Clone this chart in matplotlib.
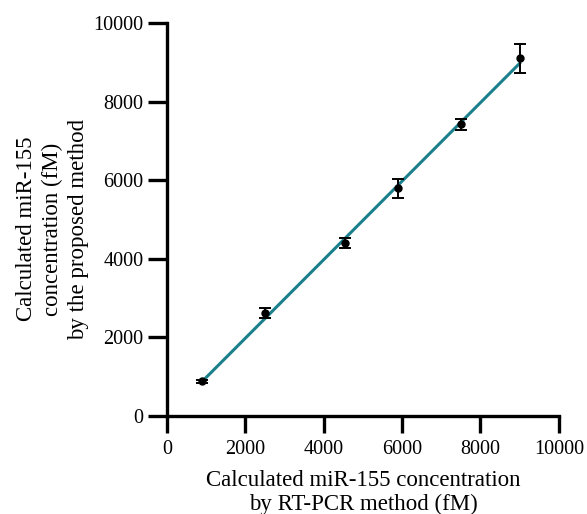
import numpy as np
import matplotlib.pyplot as plt

plt.rcParams['font.family'] = ['Liberation Serif', 'DejaVu Serif']

# RT-PCR (x) vs proposed method (y), fM
rt_pcr = [900, 2500, 4550, 5900, 7500, 9000]
proposed = [880, 2620, 4400, 5800, 7420, 9100]
err = [40, 135, 125, 245, 150, 365]

fig = plt.figure(figsize=(5.87, 5.14), dpi=100)
ax = fig.add_axes([0.2845, 0.1907, 0.6675, 0.7643])

k, b = np.polyfit(rt_pcr, proposed, 1)
xf = np.array([rt_pcr[0], rt_pcr[-1]])
ax.plot(xf, k * xf + b, color='#1b7f8c', lw=2.2, zorder=2)
ax.errorbar(rt_pcr, proposed, yerr=err, fmt='o', color='black', ms=5,
            elinewidth=1.4, capsize=4.5, capthick=1.4, zorder=3)

ax.set_xlim(0, 10000)
ax.set_ylim(0, 10000)
ax.set_xticks(range(0, 10001, 2000))
ax.set_yticks(range(0, 10001, 2000))
for s in ['top', 'right']:
    ax.spines[s].set_visible(False)
for s in ['left', 'bottom']:
    ax.spines[s].set_linewidth(2.4)
ax.tick_params(width=2.4, labelsize=14.5)
ax.tick_params(axis='x', length=12, pad=5)
ax.tick_params(axis='y', length=14, pad=3)

ax.set_xlabel('Calculated miR-155 concentration\nby RT-PCR method (fM)', fontsize=16.5, linespacing=1.15)
ax.set_ylabel('Calculated miR-155\nconcentration (fM)\nby the proposed method', fontsize=16.5, linespacing=1.3)
ax.xaxis.set_label_coords(0.5, -0.138)
ax.yaxis.set_label_coords(-0.2, 0.476)

fig.savefig('out.png', dpi=100)
